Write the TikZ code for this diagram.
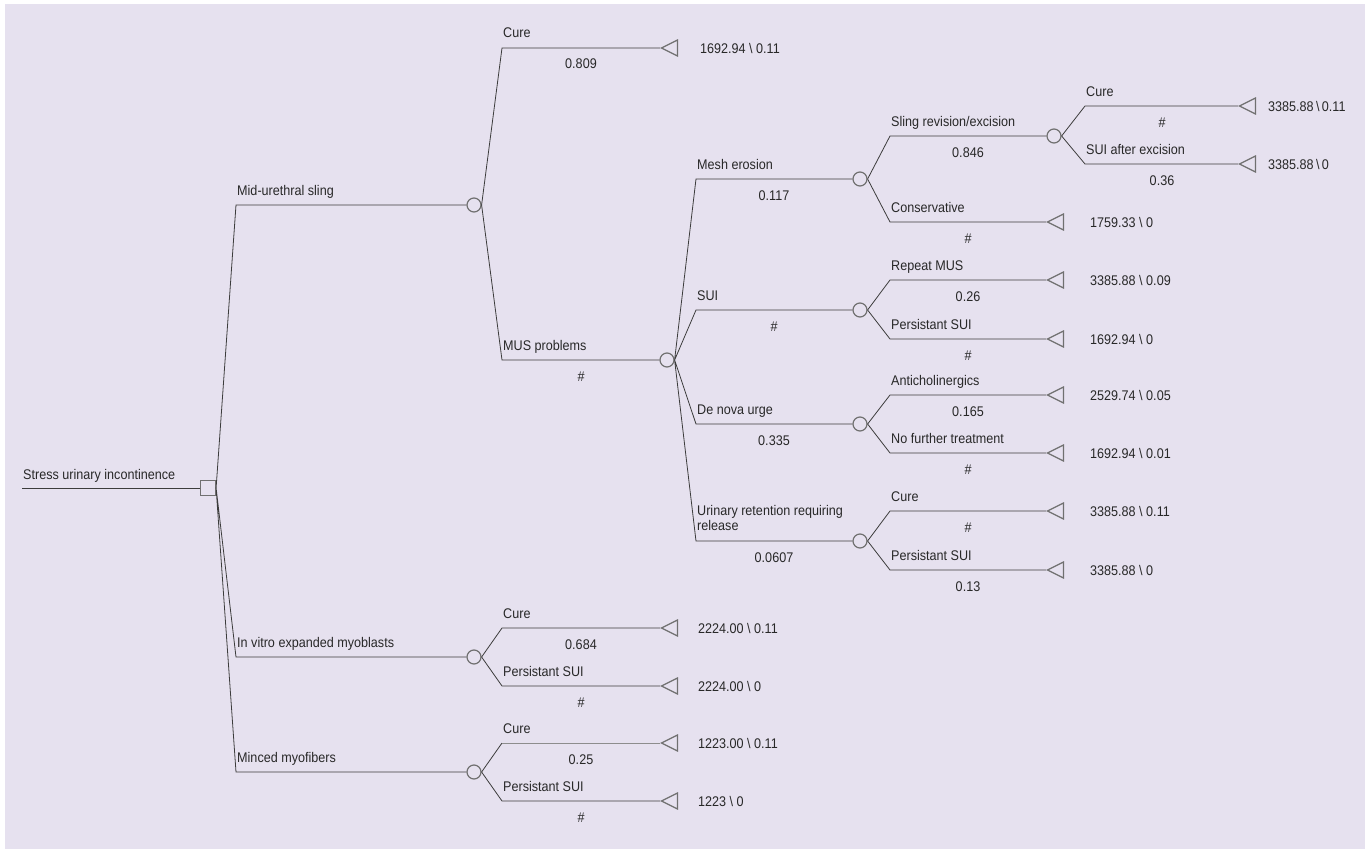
\documentclass[tikz,border=0pt]{standalone}
\usepackage{fontspec}
\setmainfont{Liberation Sans}[FakeStretch=0.9]
\usetikzlibrary{shapes.geometric}
\definecolor{bg}{RGB}{230,225,239}
\definecolor{ln}{RGB}{60,60,60}
\definecolor{shp}{RGB}{112,112,112}
\definecolor{txt}{RGB}{40,40,40}

\begin{document}
\begin{tikzpicture}[x=1pt,y=-1pt,
	every node/.style={font=\fontsize{14}{15.5}\selectfont, text=txt},
	chance/.style={circle, draw=shp, line width=1.2pt, minimum size=14pt, inner sep=0},
	decis/.style={rectangle, draw=shp, line width=1.2pt, minimum size=15pt, inner sep=0},
	term/.style={isosceles triangle, shape border rotate=180, isosceles triangle stretches,
		minimum width=16pt, minimum height=16pt, inner sep=0, draw=shp, line width=1.2pt, anchor=apex},
	lab/.style={anchor=base west, inner sep=0},
	prob/.style={anchor=base, inner sep=0},
	val/.style={anchor=west, inner sep=0},
	branch/.style={draw=ln, line width=0.8pt}]
	\useasboundingbox (0,0) rectangle (1369,851);
	\fill [bg] (5,4) rectangle (1365,849);

	\coordinate (start) at (22,488);
	\node at (208,488) [decis] (choice) {};

	\coordinate (csling) at (236,205);
	\coordinate (cvitro) at (236,657);
	\coordinate (cminced) at (236,772);
	\node at (474,205) [chance] (sling) {};
	\node at (474,657) [chance] (vitro) {};
	\node at (474,772) [chance] (minced) {};

	\coordinate (ccure) at (502,48);
	\coordinate (cprobs) at (502,360);
	\node at (660,48) [term] (cure) {};
	\node at (667,360) [chance] (probs) {};

	\coordinate (cmesh) at (696,179);
	\coordinate (csui) at (696,310);
	\coordinate (curge) at (696,424);
	\coordinate (cret) at (696,541);
	\node at (860,179) [chance] (mesh) {};
	\node at (860,310) [chance] (sui) {};
	\node at (860,424) [chance] (urge) {};
	\node at (860,541) [chance] (ret) {};

	\coordinate (cexcis) at (890,136);
	\coordinate (ccons) at (890,222);
	\node at (1054,136) [chance] (excis) {};
	\node at (1046,222) [term] (cons) {};

	\coordinate (cexcure) at (1085,106);
	\coordinate (cexsui) at (1085,164);
	\node at (1238,106) [term] (excure) {};
	\node at (1238,164) [term] (exsui) {};

	\coordinate (crepeat) at (890,280);
	\coordinate (cpersui) at (890,339);
	\node at (1046,280) [term] (repeat) {};
	\node at (1046,339) [term] (persui) {};

	\coordinate (canti) at (890,395);
	\coordinate (cnofur) at (890,453);
	\node at (1046,395) [term] (anti) {};
	\node at (1046,453) [term] (nofur) {};

	\coordinate (cretcure) at (890,511);
	\coordinate (cretsui) at (890,570);
	\node at (1046,511) [term] (retcure) {};
	\node at (1046,570) [term] (retsui) {};

	\coordinate (cvcure) at (502,628);
	\coordinate (cvsui) at (502,686);
	\node at (660,628) [term] (vcure) {};
	\node at (660,686) [term] (vsui) {};

	\coordinate (cmcure) at (502,743);
	\coordinate (cmsui) at (502,801);
	\node at (660,743) [term] (mcure) {};
	\node at (660,801) [term] (msui) {};

	\draw [branch] (start) -- (choice.west);
	\draw [branch]
	  (choice.east) -- (csling) -- (sling.west)
	  (choice.east) -- (cvitro) -- (vitro.west)
	  (choice.east) -- (cminced) -- (minced.west)
	  (sling.east) -- (ccure) -- (cure.apex)
	  (sling.east) -- (cprobs) -- (probs.west)
	  (probs.east) -- (cmesh) -- (mesh.west)
	  (probs.east) -- (csui) -- (sui.west)
	  (probs.east) -- (curge) -- (urge.west)
	  (probs.east) -- (cret) -- (ret.west)
	  (mesh.east) -- (cexcis) -- (excis.west)
	  (mesh.east) -- (ccons) -- (cons.apex)
	  (excis.east) -- (cexcure) -- (excure.apex)
	  (excis.east) -- (cexsui) -- (exsui.apex)
	  (sui.east) -- (crepeat) -- (repeat.apex)
	  (sui.east) -- (cpersui) -- (persui.apex)
	  (urge.east) -- (canti) -- (anti.apex)
	  (urge.east) -- (cnofur) -- (nofur.apex)
	  (ret.east) -- (cretcure) -- (retcure.apex)
	  (ret.east) -- (cretsui) -- (retsui.apex)
	  (vitro.east) -- (cvcure) -- (vcure.apex)
	  (vitro.east) -- (cvsui) -- (vsui.apex)
	  (minced.east) -- (cmsui) -- (msui.apex)
	;
	\draw [branch] (minced.east) -- (cmcure);
	\draw [branch, draw=shp!80] (cmcure) -- (mcure.apex);

	\node at (23,479) [lab] {Stress urinary incontinence};
	\node at (237,195) [lab] {Mid-urethral sling};
	\node at (237,647) [lab] {In vitro expanded myoblasts};
	\node at (237,762) [lab] {Minced myofibers};

	\node at (503,38) [lab] {Cure};
	\node at (581,69) [prob] {0.809};
	\node at (700,48) [val] {1692.94 \textbackslash{} 0.11};
	\node at (503,350) [lab] {MUS problems};
	\node at (581,381) [prob] {\#};

	\node at (697,169) [lab] {Mesh erosion};
	\node at (774,200) [prob] {0.117};
	\node at (697,300) [lab] {SUI};
	\node at (774,331) [prob] {\#};
	\node at (697,414) [lab] {De nova urge};
	\node at (774,445) [prob] {0.335};
	\node at (697,531) [anchor=south west, inner sep=0, align=left] {Urinary retention requiring\\release};
	\node at (774,562) [prob] {0.0607};

	\node at (891,126) [lab] {Sling revision/excision};
	\node at (968,157) [prob] {0.846};
	\node at (891,212) [lab] {Conservative};
	\node at (968,243) [prob] {\#};
	\node at (1090,222) [val] {1759.33 \textbackslash{} 0};

	\node at (1086,96) [lab] {Cure};
	\node at (1162,127) [prob] {\#};
	\node at (1268,106) [val] {3385.88\,\textbackslash\,0.11};
	\node at (1086,154) [lab] {SUI after excision};
	\node at (1162,185) [prob] {0.36};
	\node at (1268,164) [val] {3385.88\,\textbackslash\,0};

	\node at (891,270) [lab] {Repeat MUS};
	\node at (968,301) [prob] {0.26};
	\node at (1090,280) [val] {3385.88 \textbackslash{} 0.09};
	\node at (891,329) [lab] {Persistant SUI};
	\node at (968,360) [prob] {\#};
	\node at (1090,339) [val] {1692.94 \textbackslash{} 0};

	\node at (891,385) [lab] {Anticholinergics};
	\node at (968,416) [prob] {0.165};
	\node at (1090,395) [val] {2529.74 \textbackslash{} 0.05};
	\node at (891,443) [lab] {No further treatment};
	\node at (968,474) [prob] {\#};
	\node at (1090,453) [val] {1692.94 \textbackslash{} 0.01};

	\node at (891,501) [lab] {Cure};
	\node at (968,532) [prob] {\#};
	\node at (1090,511) [val] {3385.88 \textbackslash{} 0.11};
	\node at (891,560) [lab] {Persistant SUI};
	\node at (968,591) [prob] {0.13};
	\node at (1090,570) [val] {3385.88 \textbackslash{} 0};

	\node at (503,618) [lab] {Cure};
	\node at (581,649) [prob] {0.684};
	\node at (698,628) [val] {2224.00 \textbackslash{} 0.11};
	\node at (503,676) [lab] {Persistant SUI};
	\node at (581,707) [prob] {\#};
	\node at (698,686) [val] {2224.00 \textbackslash{} 0};

	\node at (503,733) [lab] {Cure};
	\node at (581,764) [prob] {0.25};
	\node at (698,743) [val] {1223.00 \textbackslash{} 0.11};
	\node at (503,791) [lab] {Persistant SUI};
	\node at (581,822) [prob] {\#};
	\node at (698,801) [val] {1223 \textbackslash{} 0};

\end{tikzpicture}
\end{document}
